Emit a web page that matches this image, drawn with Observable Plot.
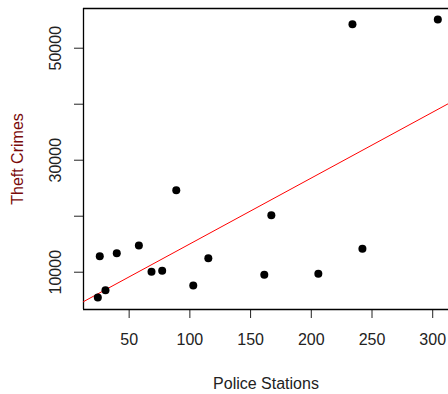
<!DOCTYPE html>
<html>
<head>
<meta charset="utf-8">
<script src="https://cdn.jsdelivr.net/npm/d3@7"></script>
<script src="https://cdn.jsdelivr.net/npm/@observablehq/plot@0.6"></script>
<style>
  html, body { margin: 0; padding: 0; background: #fff; overflow: hidden; }
</style>
</head>
<body>
<div id="chart"></div>
<script>
const policeStations = [24.2, 30.5, 25.8, 39.8, 58.0, 68.4, 77.2, 88.8, 102.8, 115.2, 161.3, 167.1, 205.8, 242.1, 233.9, 304.2];
const theftCrimes = [5480, 6790, 12860, 13390, 14770, 10070, 10250, 24640, 7620, 12500, 9540, 20180, 9710, 14180, 54290, 55130];
const xTicks = [50, 100, 150, 200, 250, 300];
const yTicks = [10000, 20000, 30000, 40000, 50000];
const yTickLabels = [10000, 30000, 50000];
const xDomain = [12.4, 313];
const yDomain = [3340, 57090];

const data = policeStations.map((x, i) => ({x, y: theftCrimes[i]}));

// ordinary least squares fit (like R's lm + abline)
const mx = d3.mean(policeStations), my = d3.mean(theftCrimes);
const sxy = d3.sum(data, d => (d.x - mx) * (d.y - my));
const sxx = d3.sum(data, d => (d.x - mx) ** 2);
const slope = sxy / sxx;
const intercept = my - slope * mx;
const fitLine = xDomain.map(x => ({x, y: intercept + slope * x}));

const chart = Plot.plot({
  width: 448,
  height: 394,
  marginLeft: 83,
  marginTop: 8,
  marginBottom: 85,
  marginRight: 0,
  style: {fontFamily: "'Liberation Sans', Arial, sans-serif", fontSize: "16px", color: "#222", background: "#fff"},
  x: {domain: xDomain, ticks: xTicks, tickSize: 9, tickPadding: 15, label: null},
  y: {domain: yDomain, ticks: yTicks, tickSize: 9, tickFormat: () => "", label: null},
  marks: [
    Plot.ruleY([yDomain[0]], {stroke: "#000", strokeWidth: 1.3}),
    Plot.ruleY([yDomain[1]], {stroke: "#000", strokeWidth: 1.3}),
    Plot.ruleX([xDomain[0]], {stroke: "#000", strokeWidth: 1.3}),
    Plot.line(fitLine, {x: "x", y: "y", stroke: "#ff0000", strokeWidth: 1, clip: true}),
    Plot.dot(data, {x: "x", y: "y", r: 4, fill: "#000", stroke: null}),
    Plot.text(yTickLabels, {y: d => d, text: d => String(d), frameAnchor: "left", dx: -28, rotate: -90, textAnchor: "middle", fontSize: 16, fill: "#222"}),
    Plot.text(["Police Stations"], {frameAnchor: "bottom", dy: 79, fontSize: 16, fill: "#222"}),
    Plot.text(["Theft Crimes"], {frameAnchor: "left", dx: -66, rotate: -90, textAnchor: "middle", fontSize: 16, fill: "#7a0a0a"})
  ]
});
document.getElementById("chart").appendChild(chart);
</script>
</body>
</html>
